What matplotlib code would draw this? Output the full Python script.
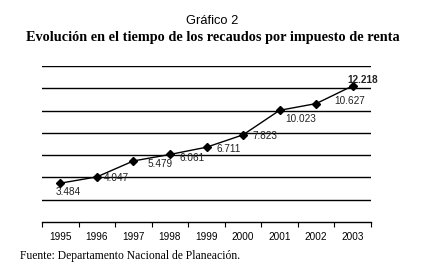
import matplotlib
matplotlib.use('Agg')
import matplotlib.pyplot as plt
import numpy as np

years = ['1995', '1996', '1997', '1998', '1999', '2000', '2001', '2002', '2003']
recaudos = [3.484, 4.047, 5.479, 6.061, 6.711, 7.823, 10.023, 10.627, 12.218]
labels = ['3.484', '4.047', '5.479', '6.061', '6.711', '7.823', '10.023', '10.627', '12.218']
# label offsets in pixels (dx, dy) relative to each point
offsets = [(-5, -9), (7, -1), (14, -3), (10, -4), (10, -2), (9, -1), (6, -9), (18, 3), (-5, 6)]

sans = 'Liberation Sans'
serif = 'Liberation Serif'

fig = plt.figure(figsize=(4.25, 2.75), dpi=100)
ax = fig.add_axes([42/425, 1-222/275, 329/425, 156/275])

x = np.arange(len(years))
ax.plot(x, recaudos, color='black', lw=1, marker='D', markersize=4.5, markerfacecolor='black')

for i, (v, lab) in enumerate(zip(recaudos, labels)):
    dx, dy = offsets[i]
    bold = (i == len(recaudos) - 1)
    ax.annotate(lab, (x[i], v), xytext=(dx, dy), textcoords='offset pixels',
                ha='left', va='center', fontsize=7.2, family=sans,
                fontweight='bold' if bold else 'normal', color='#222222')

ax.set_xlim(-0.5, len(years) - 0.5)
ax.set_ylim(0, 14)
ax.set_yticks(np.arange(2, 15, 2))
ax.yaxis.grid(True, color='black', lw=1)
ax.set_axisbelow(True)
ax.tick_params(axis='y', left=False, labelleft=False)
ax.set_xticks(x)
ax.set_xticklabels(years, family=sans, fontsize=7.2)
ax.set_xticks(np.arange(-0.5, len(years)), minor=True)
ax.tick_params(axis='x', which='major', length=0, pad=7)
ax.tick_params(axis='x', which='minor', length=3.5, width=0.8, direction='out')
for s in ['left', 'right', 'top']:
    ax.spines[s].set_visible(False)
ax.spines['bottom'].set_linewidth(1)

fig.text(0.5, 1-21/275, 'Gráfico 2', ha='center', va='center', family=sans, fontsize=9.3)
fig.text(0.5, 1-37/275, 'Evolución en el tiempo de los recaudos por impuesto de renta',
         ha='center', va='center', family=serif, fontsize=10.3, fontweight='bold')
fig.text(20/425, 1-256/275, 'Fuente: Departamento Nacional de Planeación.',
         ha='left', va='center', family=serif, fontsize=8.4)

fig.savefig('out.png', dpi=100)
